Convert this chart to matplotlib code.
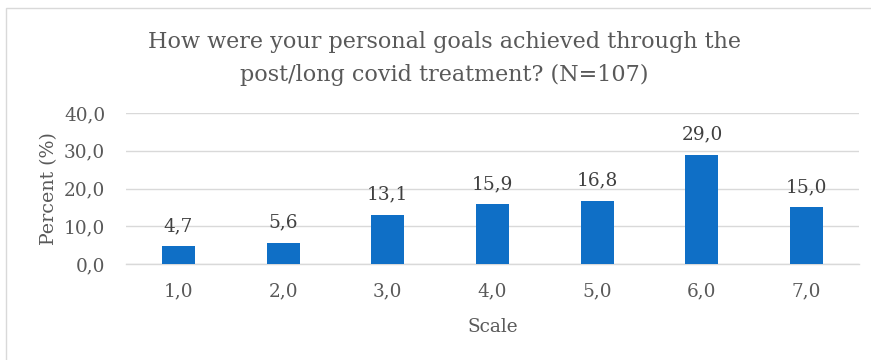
import matplotlib.pyplot as plt
from matplotlib.patches import Rectangle

# === Data ===
scale_labels = ["1,0", "2,0", "3,0", "4,0", "5,0", "6,0", "7,0"]
percent = [4.7, 5.6, 13.1, 15.9, 16.8, 29.0, 15.0]
y_ticks = [0, 10, 20, 30, 40]

TEXT = "#595959"
BAR = "#0F6FC6"
GRID = "#D9D9D9"

plt.rcParams['font.family'] = ['DejaVu Serif']

fig = plt.figure(figsize=(8.71, 3.6), dpi=100)
# chart border
fig.patches.append(Rectangle((6 / 871, -0.01), 1.0, 1.0 - 8 / 360 + 0.01,
                             transform=fig.transFigure, fill=False,
                             edgecolor=GRID, linewidth=1))

ax = fig.add_axes([126 / 871, 1 - 264 / 360, (859 - 126) / 871, (264 - 113) / 360])
x = range(len(percent))
ax.bar(x, percent, width=0.315, color=BAR, zorder=3)

for xi, v in zip(x, percent):
    ax.annotate(f"{v:.1f}".replace(".", ","), (xi, v), xytext=(0, 8),
                textcoords='offset points', ha='center', va='bottom',
                fontsize=13.3, color="#404040")

ax.set_xlim(-0.5, len(percent) - 0.5)
ax.set_ylim(0, 40)
ax.set_yticks(y_ticks)
ax.set_yticklabels([f"{t:.1f}".replace(".", ",") for t in y_ticks])
ax.set_xticks(list(x))
ax.set_xticklabels(scale_labels)
ax.tick_params(length=0, labelsize=13.3, labelcolor=TEXT)
ax.tick_params(axis='y', pad=15)
ax.tick_params(axis='x', pad=13)
ax.grid(axis='y', color=GRID, linewidth=1, zorder=0)
ax.axhline(0, color=GRID, linewidth=1, zorder=2, clip_on=False)
for s in ax.spines.values():
    s.set_visible(False)

ax.set_xlabel("Scale", fontsize=13.3, color=TEXT, labelpad=13)
ax.set_ylabel("Percent (%)", fontsize=13.7, color=TEXT, labelpad=4)

fig.text(444 / 871, 1 - 58.5 / 360,
         "How were your personal goals achieved through the\npost/long covid treatment? (N=107)",
         ha='center', va='center', fontsize=16, color=TEXT, linespacing=1.6)

fig.savefig("out.png", dpi=100)
